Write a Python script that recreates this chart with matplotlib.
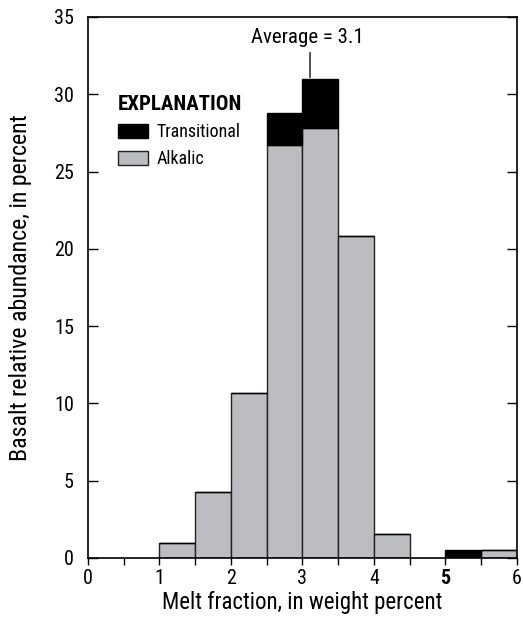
import matplotlib
matplotlib.use("Agg")
import matplotlib.pyplot as plt
import numpy as np
from matplotlib.patches import Patch

plt.rcParams['font.family'] = ['Roboto Condensed', 'DejaVu Sans']

bin_left = [1.0, 1.5, 2.0, 2.5, 3.0, 3.5, 4.0, 5.0, 5.5]
alkalic = [1.0, 4.25, 10.65, 26.7, 27.8, 20.8, 1.55, 0.0, 0.5]
transitional = [0.0, 0.0, 0.0, 2.1, 3.2, 0.0, 0.0, 0.5, 0.0]
bin_width = 0.5
x_tick_labels = ['0', '', '1', '', '2', '', '3', '', '4', '', '5', '', '6']
y_ticks = [0, 5, 10, 15, 20, 25, 30, 35]
average = 3.1

fig = plt.figure(figsize=(5.23, 6.18), dpi=100)
ax = fig.add_axes([0.168, 0.0971, 0.8205, 0.8754])

gray = '#bcbdc0'
ax.bar(bin_left, alkalic, width=bin_width, align='edge', color=gray,
       edgecolor='#222222', linewidth=1.0, zorder=2)
ax.bar(bin_left, transitional, width=bin_width, bottom=alkalic, align='edge',
       color='black', edgecolor='black', linewidth=1.0, zorder=2)

ax.set_xlim(0, 6)
ax.set_ylim(0, 35)

ax.set_xticks(np.arange(0, 6.01, 0.5))
ax.set_xticklabels(x_tick_labels)
ax.tick_params(axis='x', direction='out', length=5, width=1, labelsize=14.5, pad=3)
for t in ax.get_xticklabels():
    if t.get_text() == '5':
        t.set_fontweight('bold')

ax.set_yticks(y_ticks)
ax.tick_params(axis='y', direction='in', length=7, width=1, labelsize=14.5,
               right=True, pad=10)

for s in ax.spines.values():
    s.set_linewidth(1.2)

ax.set_xlabel('Melt fraction, in weight percent', fontsize=16.5, labelpad=2)
ax.set_ylabel('Basalt relative abundance, in percent', fontsize=17.2, labelpad=16)

top_val = alkalic[4] + transitional[4]
ax.plot([average, average], [top_val + 0.1, top_val + 1.7], color='#333333', lw=1.2)
ax.text(average - 0.03, top_val + 2.05, 'Average = 3.1', ha='center', va='bottom', fontsize=15)

handles = [Patch(facecolor='black', edgecolor='black', label='Transitional'),
           Patch(facecolor=gray, edgecolor='#222222', label='Alkalic')]
leg = ax.legend(handles=handles, loc='upper left', bbox_to_anchor=(0.062, 0.862),
                frameon=False, fontsize=13, title='EXPLANATION',
                title_fontproperties={'weight': 'bold', 'size': 15, 'family': 'Roboto Condensed'},
                handlelength=1.67, handleheight=0.85, handletextpad=0.45,
                labelspacing=0.5, alignment='left', borderpad=0.2, borderaxespad=0)

fig.savefig('out.png', dpi=100)
